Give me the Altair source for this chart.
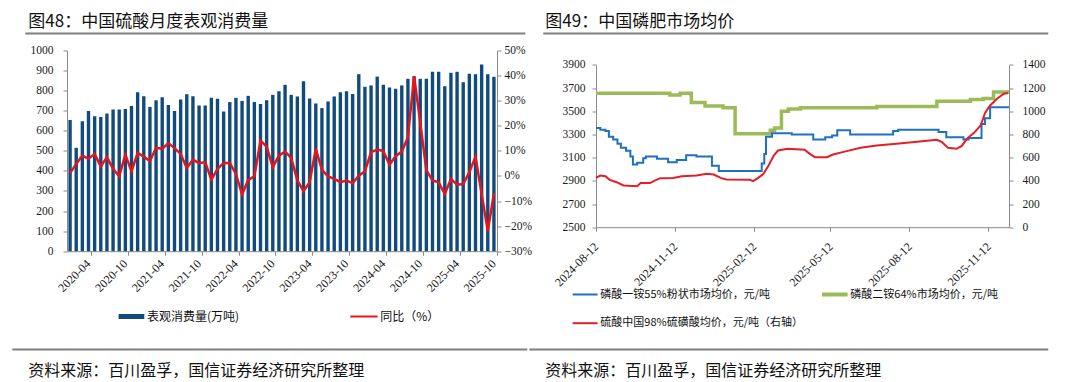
import altair as alt
import pandas as pd

# ---------------- left panel data (图48) ----------------
months = [f"{y}-{m:02d}" for y in range(2020, 2026) for m in range(1, 13)][:70]
consumption = [654, 515, 648, 699, 673, 669, 686, 706, 706, 709,
               723, 792, 772, 719, 752, 767, 729, 699, 756, 782,
               772, 726, 726, 764, 759, 696, 743, 764, 749, 774,
               744, 733, 752, 779, 797, 829, 779, 771, 847, 761,
               736, 713, 746, 771, 792, 797, 783, 882, 819, 826,
               870, 829, 816, 809, 826, 859, 872, 859, 859, 894,
               894, 822, 889, 894, 842, 884, 882, 930, 882, 869]
yoy = [1.1, 4.8, 8.1, 6.8, 8.8, 3.8, 7.5, 2.8, -0.1, 8.5,
       1.8, 9.2, 7.7, 5.9, 11.2, 10.8, 13.1, 11.1, 8.8, 3.2,
       6.5, 5.1, 5.5, -1.5, 2.8, 5.2, 5.2, 0.8, -7.4, -1.6,
       -0.2, 14.1, 11.7, 3.5, 8.1, 9.7, 7.2, -1.8, -6.1, -2.5,
       10.8, 2.4, -0.2, -1.2, -2.5, -1.8, -2.9, 0.1, 1.9, 9.5,
       10.5, 9.9, 4.5, 7.9, 9.7, 15.4, 39.8, 21.4, 2.2, -1.8,
       -2.5, -7.2, -1.2, -3.5, -3.2, 1.5, 7.7, -7.2, -22.0, -6.9]
x_tick_months = ["2020-04", "2020-10", "2021-04", "2021-10", "2022-04", "2022-10",
                 "2023-04", "2023-10", "2024-04", "2024-10", "2025-04", "2025-10"]

# ---------------- right panel data (图49) ----------------
map_dates = ["2024-08-12", "2024-08-17", "2024-08-23", "2024-08-27", "2024-09-01",
             "2024-09-06", "2024-09-10", "2024-09-16", "2024-09-21", "2024-09-24",
             "2024-09-29", "2024-10-06", "2024-10-09", "2024-10-22", "2024-11-04",
             "2024-11-14", "2024-11-25", "2024-12-07", "2024-12-25", "2025-01-02",
             "2025-02-18", "2025-02-21", "2025-02-24", "2025-02-26", "2025-03-05",
             "2025-03-28", "2025-04-22", "2025-05-06", "2025-05-14", "2025-05-20",
             "2025-06-04", "2025-07-24", "2025-07-30", "2025-09-15", "2025-09-24",
             "2025-10-14", "2025-10-20", "2025-11-04", "2025-11-08", "2025-11-14",
             "2025-12-06"]
map_vals = [3355, 3340, 3330, 3280, 3255,
            3220, 3185, 3160, 3110, 3040,
            3055, 3095, 3110, 3090, 3060,
            3080, 3120, 3110, 3030, 2985,
            2985, 3050, 3130, 3280, 3310,
            3300, 3255, 3275, 3290, 3335,
            3300, 3330, 3340, 3320, 3275,
            3255, 3270, 3390, 3440, 3535,
            3535]

dap_dates = ["2024-08-12", "2024-11-06", "2024-11-18", "2024-12-01", "2024-12-17",
             "2025-01-07", "2025-01-21", "2025-03-03", "2025-03-08", "2025-03-16",
             "2025-03-24", "2025-04-07", "2025-07-05", "2025-09-13", "2025-10-22",
             "2025-11-06", "2025-11-18", "2025-12-06"]
dap_vals = [3655, 3640, 3655, 3575, 3545,
            3530, 3305, 3335, 3355, 3500,
            3520, 3530, 3540, 3585, 3600,
            3610, 3665, 3665]

acid_dates = ["2024-08-12", "2024-08-17", "2024-08-23", "2024-08-28", "2024-09-05",
              "2024-09-13", "2024-09-29", "2024-10-03", "2024-10-14", "2024-10-20",
              "2024-10-26", "2024-11-10", "2024-11-20", "2024-12-07", "2024-12-19",
              "2024-12-27", "2025-01-05", "2025-01-11", "2025-02-07", "2025-02-11",
              "2025-02-17", "2025-02-23", "2025-03-01", "2025-03-07", "2025-03-12",
              "2025-03-23", "2025-04-12", "2025-04-18", "2025-04-24", "2025-05-08",
              "2025-05-15", "2025-05-31", "2025-06-16", "2025-07-05", "2025-07-28",
              "2025-08-24", "2025-09-13", "2025-09-19", "2025-09-26", "2025-10-06",
              "2025-10-12", "2025-10-18", "2025-10-26", "2025-11-03", "2025-11-08",
              "2025-11-14", "2025-11-22", "2025-11-30", "2025-12-05"]
acid_vals = [425, 445, 440, 408, 388,
             360, 354, 380, 380, 403,
             423, 425, 440, 446, 460,
             454, 423, 411, 408, 397,
             425, 460, 532, 618, 661,
             676, 667, 632, 604, 604,
             627, 656, 684, 704, 719,
             739, 753, 733, 684, 676,
             701, 762, 811, 877, 983,
             1049, 1107, 1150, 1156]
x_tick_dates = [(2024, 8, 12), (2024, 11, 12), (2025, 2, 12),
                (2025, 5, 12), (2025, 8, 12), (2025, 11, 12)]

# ---------------- styling ----------------
SERIF = "Liberation Serif"
CJK = "Noto Sans CJK SC"
AX = "#8a8a8a"
LBL = "#1a1a1a"
NAVY = "#114a7c"
RED_L = "#e8141c"
BLUE = "#1f70c1"
GREEN = "#9bbb59"
RED_R = "#e41e26"
RULE = "#7f7f7f"

LW, LH = 430, 200.7
RW, RH = 413, 176.7
R_TOP = 14.3

one = pd.DataFrame({"a": [0]})


def txt(x, y, s, size, font=CJK, color="#111111", align="left"):
    return alt.Chart(one).mark_text(
        text=s, align=align, baseline="middle", fontSize=size, font=font, color=color
    ).encode(x=alt.value(x), y=alt.value(y))


def hrule(x1, x2, y, color, width):
    return alt.Chart(one).mark_rule(color=color, strokeWidth=width).encode(
        x=alt.value(x1), x2=alt.value(x2), y=alt.value(y)
    )


def yaxis(orient, values, pad, expr="format(datum.value, 'd')"):
    return alt.Axis(orient=orient, values=values, tickSize=4, labelPadding=pad,
                    domainColor=AX, tickColor=AX, labelFont=SERIF, labelFontSize=11.5,
                    labelColor=LBL, grid=False, title=None, labelExpr=expr)


# ---------------- left panel ----------------
df_left = pd.DataFrame({"month": months, "consumption": consumption, "yoy": yoy})
base = alt.Chart(df_left).encode(
    x=alt.X("month:O", sort=None, title=None,
            scale=alt.Scale(paddingInner=0, paddingOuter=0),
            axis=alt.Axis(values=x_tick_months, bandPosition=1, labelAngle=315,
                          labelAlign="right", labelBaseline="middle", tickSize=4,
                          labelPadding=6, domainColor=AX, tickColor=AX,
                          labelFont=SERIF, labelFontSize=12, labelColor=LBL,
                          grid=False))
)
bars = base.mark_bar(color=NAVY, width=alt.RelativeBandSize(0.55)).encode(
    y=alt.Y("consumption:Q", title=None, scale=alt.Scale(domain=[0, 1000], nice=False),
            axis=yaxis("left", list(range(0, 1001, 100)), 10))
)
yoy_line = base.mark_line(color=RED_L, strokeWidth=2.5).encode(
    y=alt.Y("yoy:Q", title=None, scale=alt.Scale(domain=[-30, 50], nice=False),
            axis=yaxis("right", list(range(-30, 51, 10)), 3, "format(datum.value, 'd') + '%'"))
)

left = alt.layer(
    bars, yoy_line,
    txt(-38.7, -29, "图48：中国硫酸月度表观消费量", 17),
    hrule(-41.7, 458.3, -17, RULE, 2),
    hrule(51.6, 77.3, 266, NAVY, 5),
    txt(80, 266, "表观消费量(万吨)", 12),
    hrule(283.3, 310.6, 266, RED_L, 2),
    txt(313.3, 266, "同比（%）", 12),
    hrule(-54.7, 460.3, 299, RULE, 2),
    txt(-38.7, 320, "资料来源：百川盈孚，国信证券经济研究所整理", 16),
).resolve_scale(y="independent").properties(width=LW, height=LH)

# ---------------- right panel ----------------
xr = alt.X("date:T", title=None,
           scale=alt.Scale(type="utc", domain=[alt.DateTime(year=2024, month=8, date=12, utc=True),
                                               alt.DateTime(year=2025, month=12, date=6, utc=True)]),
           axis=alt.Axis(values=[alt.DateTime(year=y, month=m, date=d, utc=True) for y, m, d in x_tick_dates],
                         labelExpr="utcFormat(datum.value, '%Y-%m-%d')",
                         labelAngle=315, labelAlign="right", labelBaseline="middle",
                         tickSize=4, labelPadding=13, domainColor=AX, tickColor=AX,
                         labelFont=SERIF, labelFontSize=12, labelColor=LBL, grid=False))
yl = alt.Y("v:Q", title=None,
           scale=alt.Scale(domain=[2500, 3900], range=[RH, R_TOP], nice=False),
           axis=yaxis("left", list(range(2500, 3901, 200)), 7))
yr = alt.Y("v:Q", title=None,
           scale=alt.Scale(domain=[0, 1400], range=[RH, R_TOP], nice=False),
           axis=yaxis("right", list(range(0, 1401, 200)), 9))

map_line = alt.Chart(pd.DataFrame({"date": map_dates, "v": map_vals})).mark_line(
    color=BLUE, strokeWidth=2, interpolate="step-after").encode(x=xr, y=yl)
dap_line = alt.Chart(pd.DataFrame({"date": dap_dates, "v": dap_vals})).mark_line(
    color=GREEN, strokeWidth=3.5, interpolate="step-after").encode(x=xr, y=yl)
acid_line = alt.Chart(pd.DataFrame({"date": acid_dates, "v": acid_vals})).mark_line(
    color=RED_R, strokeWidth=2).encode(x=xr, y=yr)

right = alt.layer(
    alt.layer(dap_line, map_line),
    acid_line,
    txt(-50.7, -29, "图49：中国磷肥市场均价", 17),
    hrule(-52.7, 452.3, -17, RULE, 2),
    hrule(-23.4, 1.6, 244, BLUE, 2),
    txt(4.3, 244, "磷酸一铵55%粉状市场均价，元/吨", 11),
    hrule(226, 251.6, 244, GREEN, 4),
    txt(254.3, 244, "磷酸二铵64%市场均价，元/吨", 11),
    hrule(-23.4, 1.6, 272.7, RED_R, 2),
    txt(4.3, 272.7, "硫酸中国98%硫磺酸均价，元/吨（右轴）", 11),
    hrule(-66.7, 452.3, 299, RULE, 2),
    txt(-50.7, 320, "资料来源：百川盈孚，国信证券经济研究所整理", 16),
).resolve_scale(y="independent").properties(width=RW, height=RH)

chart = alt.hconcat(left, right, spacing=99, bounds="flush").properties(
    padding={"left": 3, "top": 4.5, "right": 4, "bottom": 6}, background="white"
).configure_view(stroke=None)

chart.save("out.html", embed_options={"renderer": "svg", "actions": False})
